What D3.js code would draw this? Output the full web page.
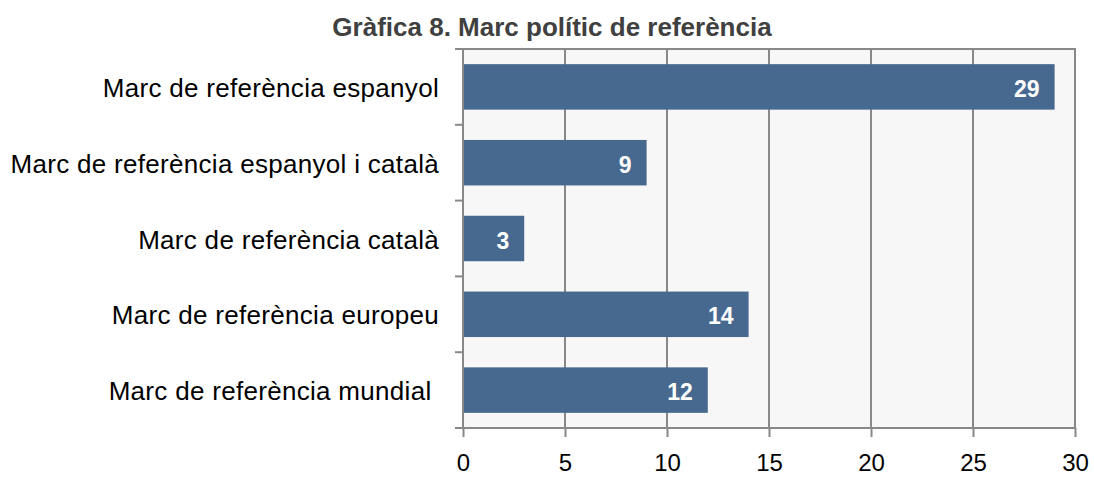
<!DOCTYPE html>
<html><head><meta charset="utf-8">
<script src="https://cdn.jsdelivr.net/npm/d3@7"></script>
<style>body{margin:0;background:#fff}svg{display:block}</style>
</head><body><svg id="c" width="1094" height="477"></svg>
<script>
const title = "Gràfica 8. Marc polític de referència";
const categories = ["Marc de referència espanyol","Marc de referència espanyol i català","Marc de referència català","Marc de referència europeu","Marc de referència mundial "];
const values = [29, 9, 3, 14, 12];
const xTicks = [0,5,10,15,20,25,30];

const svg = d3.select("#c");
const L = 463, R = 1075, T = 49, B = 428;
const x = d3.scaleLinear().domain([0,30]).range([L,R]);
const y = d3.scaleBand().domain(categories).range([T,B]).paddingInner(0.4).paddingOuter(0.2);
const font = "'Liberation Sans', Arial, sans-serif";

svg.append("rect").attr("x",L).attr("y",T).attr("width",R-L).attr("height",B-T).attr("fill","#f7f7f7");
svg.append("g").selectAll("line").data(xTicks.slice(1)).join("line")
  .attr("x1",d=>x(d)).attr("x2",d=>x(d)).attr("y1",T).attr("y2",B)
  .attr("stroke","#888").attr("stroke-width",2);
svg.append("line").attr("x1",L).attr("x2",R+1).attr("y1",T).attr("y2",T).attr("stroke","#888").attr("stroke-width",2);

svg.append("g").selectAll("rect").data(values).join("rect")
  .attr("x",x(0)).attr("y",(d,i)=>y(categories[i]))
  .attr("width",d=>x(d)-x(0)).attr("height",y.bandwidth())
  .attr("fill","#48698f");
svg.append("g").selectAll("text").data(values).join("text")
  .attr("x",d=>x(d)-15).attr("y",(d,i)=>y(categories[i])+y.bandwidth()/2+10)
  .attr("text-anchor","end").attr("fill","#fff").attr("font-weight","bold")
  .attr("font-family",font).attr("font-size",23).text(d=>d);

const xa = svg.append("g").attr("transform",`translate(0,${B})`)
  .call(d3.axisBottom(x).tickValues(xTicks).tickSize(9).tickPadding(17).tickSizeOuter(0));
xa.select(".domain").attr("stroke","#888").attr("stroke-width",2).attr("d",`M${L-8},0H${R+1}`);
xa.selectAll(".tick line").attr("stroke","#888").attr("stroke-width",2);
xa.selectAll(".tick text").attr("font-family",font).attr("font-size",24).attr("fill","#000");

svg.append("line").attr("x1",L).attr("x2",L).attr("y1",T).attr("y2",B).attr("stroke","#888").attr("stroke-width",2);
const step = (B-T)/categories.length;
svg.append("g").selectAll("line").data(d3.range(categories.length)).join("line")
  .attr("x1",L-8).attr("x2",L).attr("y1",(d,i)=>T+step*i).attr("y2",(d,i)=>T+step*i)
  .attr("stroke","#888").attr("stroke-width",2);
svg.append("g").selectAll("text").data(categories).join("text")
  .attr("x",L-24).attr("y",d=>y(d)+y.bandwidth()/2+10)
  .attr("text-anchor","end").attr("font-family",font).attr("font-size",26).attr("letter-spacing",0.3).attr("fill","#000")
  .style("white-space","pre").text(d=>d);

svg.append("text").attr("x",552).attr("y",36).attr("text-anchor","middle")
  .attr("font-family",font).attr("font-size",26).attr("font-weight","bold").attr("fill","#404040").text(title);
</script></body></html>
